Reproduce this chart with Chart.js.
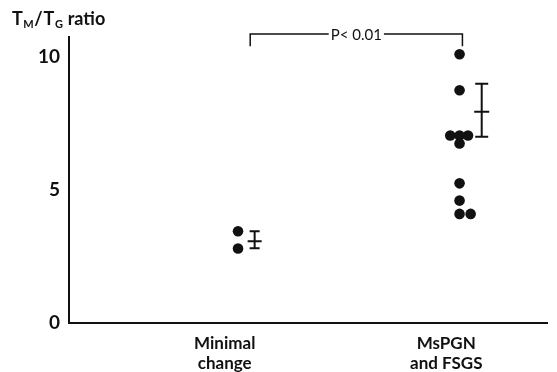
<!DOCTYPE html>
<html>
<head>
<meta charset="utf-8">
<script src="https://cdn.jsdelivr.net/npm/chart.js@4"></script>
<style>
  html, body { margin: 0; padding: 0; background: #fff; }
</style>
</head>
<body>
<canvas id="myChart" width="557" height="372"></canvas>
<script>
// groups along the x axis
let groupLabels = [['Minimal', 'change'], ['MsPGN', 'and FSGS']];
let groupX = [1, 2];

// individual TM/TG ratios
let minimalValues = [3.45, 2.8];
let mspgnValues = [10.1, 8.75, 7.05, 7.05, 7.05, 6.75, 5.25, 4.6, 4.1, 4.1];

// mean and spread bars (minimal change, MsPGN/FSGS)
let errMean = [3.07, 7.94];
let errLow = [2.81, 7.0];
let errHigh = [3.45, 8.99];

let yTicks = [0, 5, 10];
let pText = 'P< 0.01';

// layout bits (not data)
let minimalJitter = [0, 0];
let mspgnJitter = [0, 0, -0.042, 0, 0.038, 0, 0, 0, 0, 0.05];
let labelShift = -0.06;
let errShift = [0.075, 0.1];
let bracketX = [1.055, 2.013];
let bracketY = [10.86, 10.4];

let font = 'Lato';
let ink = '#111';

let ctx = document.getElementById('myChart').getContext('2d');

let errorSets = [];
errMean.forEach(function (m, i) {
    let x = groupX[i] + errShift[i];
    errorSets.push({
        type: 'scatter',
        data: [{ x: x, y: errLow[i] }, { x: x, y: errHigh[i] }],
        showLine: true,
        borderColor: ink,
        borderWidth: 2,
        pointStyle: 'line',
        pointRadius: i == 0 ? 5 : 6.5,
        pointBorderWidth: 2,
        pointBorderColor: ink
    });
    errorSets.push({
        type: 'scatter',
        data: [{ x: x, y: m }],
        pointStyle: 'line',
        pointRadius: i == 0 ? 7 : 7.5,
        pointBorderWidth: 2,
        pointBorderColor: ink
    });
});

// bracket with the p value, plus the y axis title with subscripts
let extras = {
    id: 'extras',
    afterDraw: function (chart) {
        let c = chart.ctx;
        let xs = chart.scales.x, ys = chart.scales.y;
        let x1 = xs.getPixelForValue(bracketX[0]);
        let x2 = xs.getPixelForValue(bracketX[1]);
        let yTop = ys.getPixelForValue(bracketY[0]);
        let yEnd = ys.getPixelForValue(bracketY[1]);
        c.save();
        c.strokeStyle = ink;
        c.fillStyle = ink;
        c.lineWidth = 1.5;
        c.font = '15px ' + font;
        let tw = c.measureText(pText).width;
        let mid = (x1 + x2) / 2;
        c.beginPath();
        c.moveTo(x1, yEnd);
        c.lineTo(x1, yTop);
        c.lineTo(mid - tw / 2 - 2, yTop);
        c.moveTo(mid + tw / 2 + 2, yTop);
        c.lineTo(x2, yTop);
        c.lineTo(x2, yEnd);
        c.stroke();
        c.textAlign = 'center';
        c.textBaseline = 'middle';
        c.fillText(pText, mid, yTop + 1);

        // T_M / T_G ratio
        let x = 12, base = 25;
        c.textAlign = 'left';
        c.textBaseline = 'alphabetic';
        let parts = [
            ['T', 18, 0], ['M', 11, 3], ['/', 18, 0], ['T', 18, 0], ['G', 11, 3], [' ratio', 18, 0]
        ];
        parts.forEach(function (p) {
            c.font = 'bold ' + p[1] + 'px ' + font;
            c.fillText(p[0], x, base + p[2]);
            x += c.measureText(p[0]).width + (p[0] == '/' ? 1 : 0.5);
        });
        c.restore();
    }
};

let chart = new Chart(ctx, {
    type: 'scatter',
    data: {
        datasets: [{
            data: minimalValues.map(function (v, i) { return { x: groupX[0] + minimalJitter[i], y: v }; }),
            pointRadius: 5.3,
            pointBackgroundColor: ink,
            pointBorderWidth: 0
        }, {
            data: mspgnValues.map(function (v, i) { return { x: groupX[1] + mspgnJitter[i], y: v }; }),
            pointRadius: 5.3,
            pointBackgroundColor: ink,
            pointBorderWidth: 0
        }].concat(errorSets)
    },
    options: {
        responsive: false,
        animation: false,
        layout: { padding: { top: 37, right: 4, left: 0, bottom: 0 } },
        plugins: {
            legend: { display: false },
            tooltip: { enabled: false }
        },
        scales: {
            x: {
                type: 'linear',
                min: 0.237,
                max: 2.397,
                afterBuildTicks: function (scale) {
                    scale.ticks = groupX.map(function (g) { return { value: g + labelShift }; });
                },
                afterFit: function (scale) { scale.height = 49; },
                grid: { display: false, drawTicks: false },
                border: { display: true, color: ink, width: 2 },
                ticks: {
                    autoSkip: false,
                    maxRotation: 0,
                    padding: 11,
                    color: ink,
                    font: { family: font, size: 17, weight: 'bold', lineHeight: 1.15 },
                    callback: function (value, index) { return groupLabels[index]; }
                }
            },
            y: {
                min: 0,
                max: 10.75,
                afterBuildTicks: function (scale) {
                    scale.ticks = yTicks.map(function (v) { return { value: v }; });
                },
                afterFit: function (scale) { scale.width = 69; },
                grid: { display: false, drawTicks: false },
                border: { display: true, color: ink, width: 2 },
                ticks: {
                    padding: 9,
                    color: ink,
                    font: { family: font, size: 19, weight: 'bold' }
                }
            }
        }
    },
    plugins: [extras]
});
</script>
</body>
</html>
